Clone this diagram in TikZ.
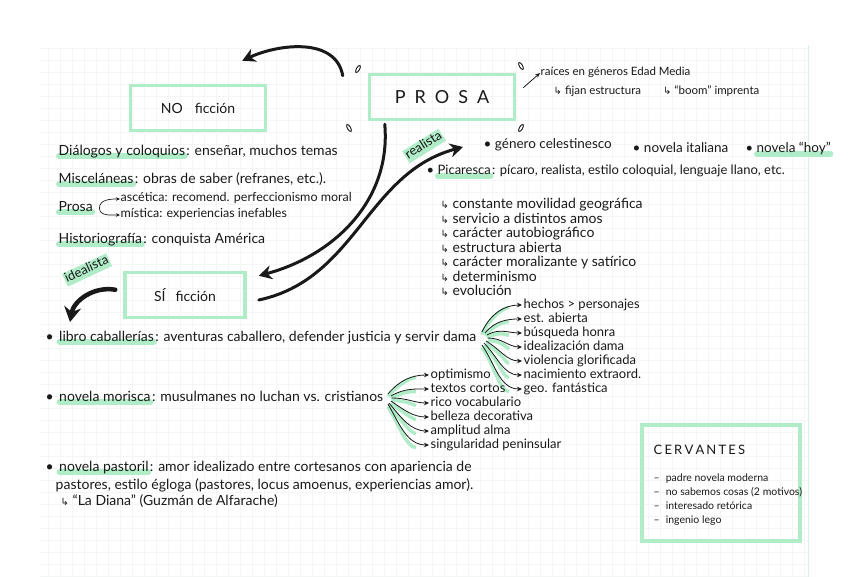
\documentclass[tikz,border=0pt]{standalone}
\usepackage{fontspec}
\setmainfont{Lato}
\newfontfamily\flecha{DejaVu Sans}
\usetikzlibrary{arrows.meta, positioning, backgrounds, calc}
\definecolor{menta}{RGB}{176,236,200}
\definecolor{cuadro}{RGB}{244,246,246}
\definecolor{tinta}{RGB}{25,25,25}
\newcommand{\giro}{{\flecha\fontsize{10}{11}\selectfont ↳}}
\newcommand{\resaltar}[1]{\draw[resalte] ([yshift=3pt,xshift=1pt]#1.south west) -- ([yshift=3pt,xshift=-1pt]#1.south east);}

\begin{document}
\begin{tikzpicture}[x=1pt, y=-1pt, >=Stealth, tinta,
    txt/.style={anchor=west, inner sep=0.5pt, text height=9.5pt, text depth=3pt, font=\fontsize{14}{16}\selectfont},
    lista/.style={txt, text height=9pt, font=\fontsize{13}{14}\selectfont},
    chico/.style={txt, text height=8pt, font=\fontsize{11.5}{13}\selectfont},
    caja/.style={draw=menta, line width=3.5pt, minimum height=45pt},
    resalte/.style={draw=menta, line width=6pt, line cap=round},
    grueso/.style={-{Stealth[length=13pt,width=14pt]}, line width=3pt, line cap=round},
    flechita/.style={-{Stealth[length=5pt,width=4.5pt]}, line width=0.8pt, shorten >=1pt,
        preaction={draw=menta, line width=3.5pt, -, shorten >=14pt, transform canvas={yshift=-2.5pt}}},
    gota/.style={line width=0.9pt}
]
    \useasboundingbox (0,0) rectangle (848,577);
    % papel cuadriculado
    \begin{scope}[on background layer]
        \draw[cuadro, step=12pt] (40,48) grid (808,577);
        \draw[cuadro!60!menta, line width=1pt] (808,45) -- (808,577);
    \end{scope}

    % cajas principales
    \node[caja, minimum width=145pt] (prosa) at (442,97) {\fontsize{18}{18}\selectfont P\hspace{9pt}R\hspace{9pt}O\hspace{9pt}S\hspace{9pt}A};
    \node[caja, minimum width=135pt] (nof) at (198,108) {\fontsize{14}{16}\selectfont NO\hspace{12pt}ficción};
    \node[caja, minimum width=120pt] (sif) at (185,295) {\fontsize{14}{16}\selectfont SÍ\hspace{10pt}ficción};
    \node[caja, minimum width=158pt, minimum height=116pt] (cerv) at (721,483) {};

    % gotas en las esquinas de PROSA
    \draw[gota, rotate around={-30:(358,69)}] (358,69) ellipse (1.6pt and 4pt);
    \draw[gota, rotate around={30:(521,66)}] (521,66) ellipse (1.6pt and 4pt);
    \draw[gota, rotate around={30:(349,128)}] (349,128) ellipse (1.6pt and 4pt);
    \draw[gota, rotate around={-30:(521,128)}] (521,128) ellipse (1.6pt and 4pt);

    % arriba a la derecha
    \node[chico] (raices) at (540,73) {raíces en géneros Edad Media};
    \node[chico] (fijan) at (553,92) {\giro\ fijan estructura\hspace{22pt}\giro\ “boom” imprenta};
    \draw[-{Stealth[length=5pt,width=4pt]}, line width=0.8pt] ([xshift=7pt,yshift=-15pt]prosa.north east) -- (raices.west);

    % no ficción
    \node[txt] (dial) at (58,152) {Diálogos y coloquios};
    \node[txt, right=0pt of dial] (dialr) {: enseñar, muchos temas};
    \node[txt] (misc) at (58,180) {Misceláneas};
    \node[txt, right=0pt of misc] (miscr) {: obras de saber (refranes, etc.).};
    \node[txt] (pros) at (58,208) {Prosa};
    \node[chico, font=\fontsize{12.5}{14}\selectfont] (asce) at (120,199) {ascética: recomend. perfeccionismo moral};
    \node[chico, font=\fontsize{12.5}{14}\selectfont] (mist) at (120,215) {mística: experiencias inefables};
    \draw[-{Stealth[length=4pt,width=3.5pt]}, line width=0.7pt] ([xshift=6pt]pros.east) to[out=90,in=180] (asce.west);
    \draw[-{Stealth[length=4pt,width=3.5pt]}, line width=0.7pt] ([xshift=6pt]pros.east) to[out=-90,in=180] (mist.west);
    \node[txt] (hist) at (58,240) {Historiografía};
    \node[txt, right=0pt of hist] (histr) {: conquista América};

    % realista
    \node[lista, font=\fontsize{13.5}{15}\selectfont] (gcel) at (483,146) {• género celestinesco};
    \node[lista, font=\fontsize{13.5}{15}\selectfont] (nita) at (632,150) {• novela italiana};
    \node[lista] (bhoy) at (745,150) {•};
    \node[lista, font=\fontsize{13.5}{15}\selectfont, right=2pt of bhoy] (nhoy) {novela “hoy”};
    \node[lista] (bpic) at (426,172) {•};
    \node[lista, right=2pt of bpic] (pica) {Picaresca};
    \node[lista, right=0pt of pica] (picar) {: pícaro, realista, estilo coloquial, lenguaje llano, etc.};
    \node[lista, font=\fontsize{14}{15}\selectfont] (pic1) at (440,206) {\giro\ constante movilidad geográfica};
    \node[lista, font=\fontsize{14}{15}\selectfont, below=1pt of pic1.south west, anchor=north west] (pic2) {\giro\ servicio a distintos amos};
    \node[lista, font=\fontsize{14}{15}\selectfont, below=1pt of pic2.south west, anchor=north west] (pic3) {\giro\ carácter autobiográfico};
    \node[lista, font=\fontsize{14}{15}\selectfont, below=1pt of pic3.south west, anchor=north west] (pic4) {\giro\ estructura abierta};
    \node[lista, font=\fontsize{14}{15}\selectfont, below=1pt of pic4.south west, anchor=north west] (pic5) {\giro\ carácter moralizante y satírico};
    \node[lista, font=\fontsize{14}{15}\selectfont, below=1pt of pic5.south west, anchor=north west] (pic6) {\giro\ determinismo};
    \node[lista, font=\fontsize{14}{15}\selectfont, below=1pt of pic6.south west, anchor=north west] (pic7) {\giro\ evolución};

    % flechas grandes
    \coordinate (realfin) at (463,147);
    \draw[grueso] ([xshift=-25pt,yshift=-3pt]prosa.north west) to[out=100,in=25] ([xshift=-25pt,yshift=23pt]nof.north east);
    \draw[grueso] ([xshift=17pt,yshift=-3pt]prosa.south west) to[out=-85,in=15] ([xshift=12pt,yshift=-5pt]sif.north east);
    \draw[grueso] ([xshift=12pt,yshift=-5pt]sif.east) to[out=12,in=195] (realfin);
    \node[lista, anchor=center, rotate=32, fill=menta, inner sep=1pt] (real) at (424,146) {realista};
    \draw[grueso, line width=4.5pt, -{Stealth[length=15pt,width=17pt]}] ([xshift=-8pt,yshift=-19pt]sif.north west) to[out=170,in=80] (70,322);
    \node[lista, anchor=center, rotate=25, fill=menta, inner sep=1pt] (ideal) at (87,270) {idealista};

    % sí ficción: libros de caballerías
    \node[txt] (bcab) at (45,338) {•};
    \node[txt, right=4pt of bcab] (lcab) {libro caballerías};
    \node[txt, right=0pt of lcab] (lcabr) {: aventuras caballero, defender justicia y servir dama};
    \coordinate[right=5pt of lcabr] (fanA);
    \node[lista] (h1) at (523,305) {hechos > personajes};
    \node[lista] (h2) at (523,319) {est. abierta};
    \node[lista] (h3) at (523,333) {búsqueda honra};
    \node[lista] (h4) at (523,347) {idealización dama};
    \node[lista] (h5) at (523,361) {violencia glorificada};
    \node[lista] (h6) at (523,375) {nacimiento extraord.};
    \node[lista] (h7) at (523,389) {geo. fantástica};
    \draw[flechita] ([yshift=6pt]fanA) to[out=65,in=180] (h1.west);
    \draw[flechita] ([xshift=3pt,yshift=5pt]fanA) to[out=50,in=180] (h2.west);
    \draw[flechita] ([xshift=5pt,yshift=3pt]fanA) to[out=30,in=180] (h3.west);
    \draw[flechita] ([xshift=6pt]fanA) to[out=0,in=180] (h4.west);
    \draw[flechita] ([xshift=4pt,yshift=-3pt]fanA) to[out=-30,in=180] (h5.west);
    \draw[flechita] ([xshift=2pt,yshift=-5pt]fanA) to[out=-45,in=180] (h6.west);
    \draw[flechita] ([yshift=-7pt]fanA) to[out=-55,in=180] (h7.west);

    % novela morisca
    \node[txt] (bmor) at (45,398) {•};
    \node[txt, right=4pt of bmor] (mor) {novela morisca};
    \node[txt, right=0pt of mor] (morr) {: musulmanes no luchan vs. cristianos};
    \coordinate[right=4pt of morr] (fanB);
    \node[lista] (m1) at (430,375) {optimismo};
    \node[lista] (m2) at (430,389) {textos cortos};
    \node[lista] (m3) at (430,403) {rico vocabulario};
    \node[lista] (m4) at (430,417) {belleza decorativa};
    \node[lista] (m5) at (430,431) {amplitud alma};
    \node[lista] (m6) at (430,445) {singularidad peninsular};
    \draw[flechita] ([yshift=4pt]fanB) to[out=50,in=180] (m1.west);
    \draw[flechita] ([xshift=3pt,yshift=2pt]fanB) to[out=30,in=180] (m2.west);
    \draw[flechita] ([xshift=4pt]fanB) to[out=0,in=180] (m3.west);
    \draw[flechita] ([xshift=3pt,yshift=-3pt]fanB) to[out=-35,in=180] (m4.west);
    \draw[flechita] ([xshift=1pt,yshift=-5pt]fanB) to[out=-50,in=180] (m5.west);
    \draw[flechita] ([yshift=-6pt]fanB) to[out=-60,in=180] (m6.west);

    % novela pastoril
    \node[txt] (bpas) at (45,468) {•};
    \node[txt, right=4pt of bpas] (pas) {novela pastoril};
    \node[txt, right=0pt of pas] (pasr) {: amor idealizado entre cortesanos con apariencia de};
    \node[txt] (pas2) at (55,486) {pastores, estilo égloga (pastores, locus amoenus, experiencias amor).};
    \node[txt] (pas3) at (60,502) {\giro\ “La Diana” (Guzmán de Alfarache)};

    % Cervantes
    \node[txt, font=\fontsize{13}{14}\selectfont] (cvt) at (653,451) {C\,E\,R\,V\,A\,N\,T\,E\,S};
    \node[chico, font=\fontsize{10.5}{11}\selectfont] (c1) at (653,479) {–\hspace{6pt}padre novela moderna};
    \node[chico, font=\fontsize{10.5}{11}\selectfont] (c2) at (653,493) {–\hspace{6pt}no sabemos cosas (2 motivos)};
    \node[chico, font=\fontsize{10.5}{11}\selectfont] (c3) at (653,507) {–\hspace{6pt}interesado retórica};
    \node[chico, font=\fontsize{10.5}{11}\selectfont] (c4) at (653,521) {–\hspace{6pt}ingenio lego};

    % subrayados verdes
    \begin{scope}[on background layer]
        \resaltar{dial}
        \resaltar{misc}
        \resaltar{pros}
        \resaltar{hist}
        \resaltar{nhoy}
        \resaltar{pica}
        \resaltar{lcab}
        \resaltar{mor}
        \resaltar{pas}
    \end{scope}
\end{tikzpicture}
\end{document}
